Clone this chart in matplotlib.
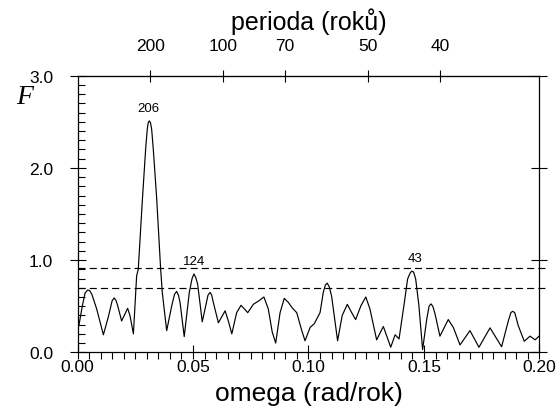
import numpy as np
import matplotlib
matplotlib.use("Agg")
import matplotlib.pyplot as plt
from matplotlib.ticker import MultipleLocator, FormatStrFormatter

plt.rcParams["font.family"] = ["Liberation Sans", "DejaVu Sans"]

# periodogram
omega = [0.0006, 0.0021, 0.0033, 0.0044, 0.0052, 0.0062, 0.0083, 0.0112, 0.0133,
         0.0150, 0.0159, 0.0167, 0.0174, 0.0191, 0.0217, 0.0227, 0.0242, 0.0256,
         0.0263, 0.0281, 0.0295, 0.0302, 0.0306, 0.0311, 0.0316, 0.0321, 0.0328,
         0.0343, 0.0360, 0.0367, 0.0386, 0.0408, 0.0420, 0.0429, 0.0437, 0.0444,
         0.0462, 0.0484, 0.0496, 0.0504, 0.0512, 0.0520, 0.0526, 0.0540, 0.0565,
         0.0574, 0.0581, 0.0588, 0.0610, 0.0639, 0.0653, 0.0668, 0.0689, 0.0708,
         0.0737, 0.0761, 0.0786, 0.0807, 0.0826, 0.0843, 0.0858, 0.0877, 0.0895,
         0.0913, 0.0930, 0.0949, 0.0971, 0.0985, 0.1007, 0.1025, 0.1050, 0.1064,
         0.1073, 0.1081, 0.1090, 0.1100, 0.1126, 0.1146, 0.1168, 0.1187, 0.1204,
         0.1227, 0.1248, 0.1266, 0.1295, 0.1324, 0.1356, 0.1375, 0.1392, 0.1415,
         0.1429, 0.1440, 0.1447, 0.1455, 0.1464, 0.1478, 0.1494, 0.1512, 0.1522,
         0.1530, 0.1538, 0.1548, 0.1569, 0.1605, 0.1627, 0.1656, 0.1699, 0.1738,
         0.1786, 0.1836, 0.1865, 0.1876, 0.1884, 0.1893, 0.1908, 0.1934, 0.1959,
         0.1981, 0.1998]
F = [0.29, 0.505, 0.645, 0.675, 0.67, 0.63, 0.47, 0.19, 0.38,
     0.56, 0.59, 0.56, 0.505, 0.34, 0.477, 0.40, 0.20, 0.83,
     0.90, 1.66, 2.205, 2.42, 2.49, 2.51, 2.49, 2.42, 2.205,
     1.66, 0.90, 0.65, 0.235, 0.505, 0.63, 0.66, 0.62, 0.54,
     0.17, 0.65, 0.80, 0.85, 0.81, 0.74, 0.62, 0.33, 0.62,
     0.65, 0.62, 0.54, 0.32, 0.45, 0.34, 0.20, 0.43, 0.51,
     0.43, 0.52, 0.56, 0.60, 0.47, 0.22, 0.10, 0.43, 0.585,
     0.54, 0.48, 0.43, 0.235, 0.125, 0.27, 0.31, 0.43, 0.65,
     0.73, 0.75, 0.71, 0.61, 0.125, 0.40, 0.52, 0.43, 0.355,
     0.505, 0.60, 0.47, 0.135, 0.28, 0.055, 0.19, 0.145, 0.54,
     0.795, 0.86, 0.88, 0.87, 0.795, 0.505, 0.03, 0.36, 0.50,
     0.525, 0.50, 0.415, 0.175, 0.355, 0.27, 0.08, 0.235, 0.055,
     0.265, 0.06, 0.34, 0.43, 0.445, 0.43, 0.29, 0.12, 0.175,
     0.135, 0.175]

levels = [0.91, 0.695]              # dashed significance levels
top_periods = [200, 100, 70, 50, 40]
peak_periods = [206, 124, 43]
peak_F = [2.51, 0.85, 0.88]

fig = plt.figure(figsize=(5.56, 4.10), dpi=100)
ax = fig.add_axes([0.1394, 0.1383, 0.8309, 0.6746])

ax.plot(omega, F, color="black", lw=0.85)
for lv in levels:
    ax.plot([0, 0.2035], [lv, lv], color="black", lw=0.85,
            dashes=(6, 3.5), clip_on=False)

for p, f in zip(peak_periods, peak_F):
    ax.annotate(str(p), (2 * np.pi / p, f), xytext=(0, 5),
                textcoords="offset points", ha="center", va="bottom",
                fontsize=9.5)

ax.set_xlim(0, 0.2)
ax.set_ylim(0, 3.0)
ax.xaxis.set_major_locator(MultipleLocator(0.05))
ax.xaxis.set_minor_locator(MultipleLocator(0.005))
ax.yaxis.set_major_locator(MultipleLocator(1.0))
ax.yaxis.set_minor_locator(MultipleLocator(0.1))
ax.xaxis.set_major_formatter(FormatStrFormatter("%.2f"))
ax.yaxis.set_major_formatter(FormatStrFormatter("%.1f"))

ax.tick_params(axis="x", which="major", direction="inout", length=10,
               width=0.8, labelsize=12.5, pad=0, top=False)
ax.tick_params(axis="x", which="minor", direction="out", length=4.8,
               width=0.8, top=False)
ax.tick_params(axis="y", which="major", direction="inout", length=11,
               width=0.8, labelsize=12.5, pad=12, right=True)
ax.tick_params(axis="y", which="minor", direction="in", length=4.8,
               width=0.8, right=False)
for s in ax.spines.values():
    s.set_linewidth(0.9)

sec = ax.secondary_xaxis("top")
sec.set_xticks([2 * np.pi / p for p in top_periods])
sec.set_xticklabels([str(p) for p in top_periods])
sec.tick_params(direction="inout", length=9, width=0.8, labelsize=12.5, pad=12)
sec.set_xlabel("perioda (roků)", fontsize=18, labelpad=6)

ax.set_xlabel("omega (rad/rok)", fontsize=19)
ax.xaxis.set_label_coords(0.5, -0.104)
ax.text(-0.115, 0.925, "F", transform=ax.transAxes, fontsize=20,
        family="Liberation Serif", style="italic", ha="center", va="center")

fig.savefig("out.png", dpi=100)
